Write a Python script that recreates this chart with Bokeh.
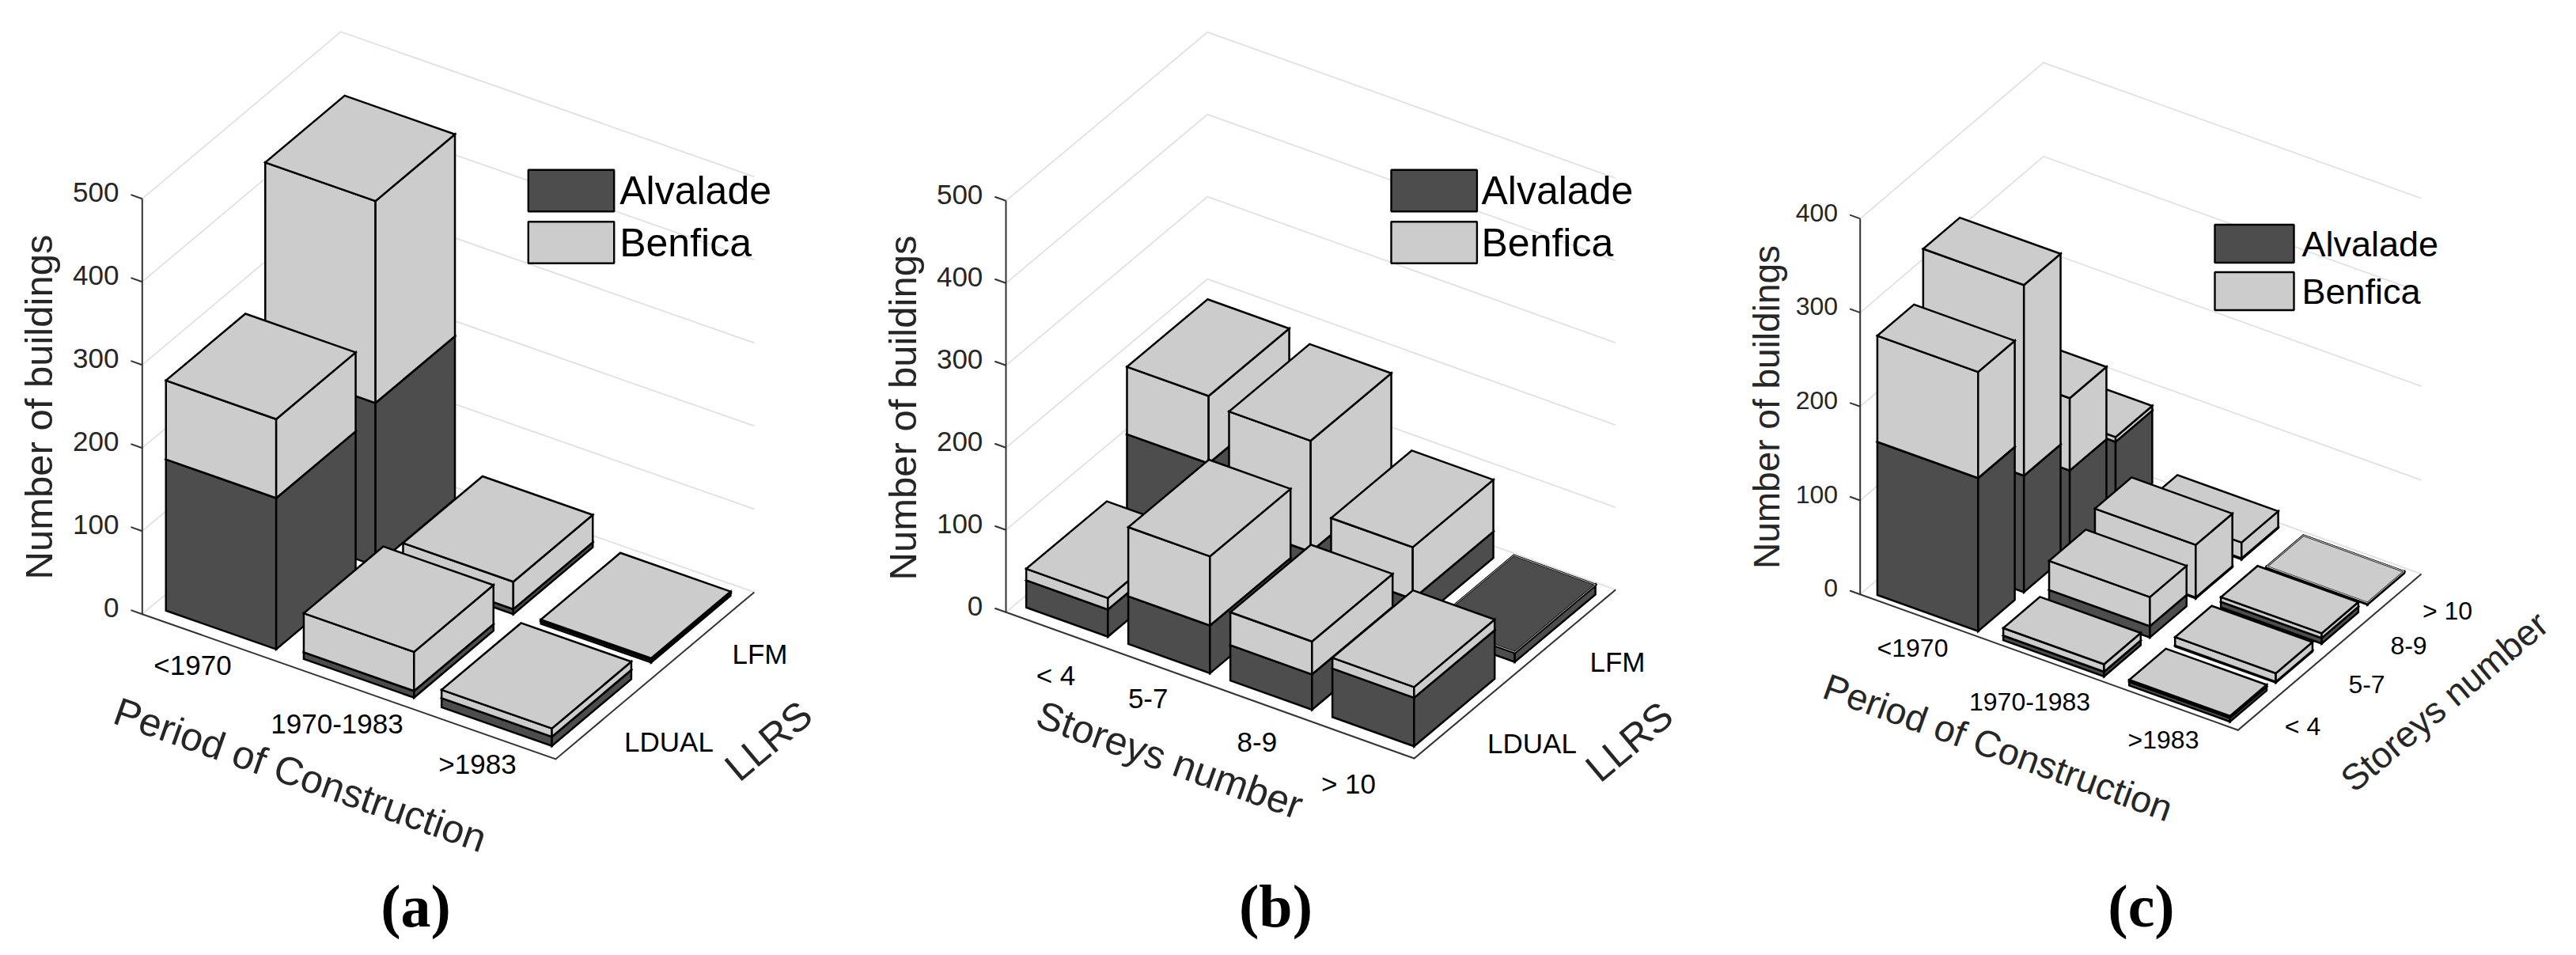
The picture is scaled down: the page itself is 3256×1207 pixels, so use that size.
from bokeh.plotting import figure
from bokeh.layouts import row
from bokeh.models import Range1d
from bokeh.core.properties import value as _v
from bokeh.embed import file_html
from bokeh.resources import INLINE
import math

FONT = "Liberation Sans"
DARK = "#4d4d4d"
LIGHT = "#cccccc"
INK = "#262626"
GRID = "#e0e0e0"
W, H = 3240, 1191
PANEL_X = [0, 1080, 2160]
PANEL_W = 1080

period = ["<1970", "1970-1983", ">1983"]
storeys = ["< 4", "5-7", "8-9", "> 10"]
llrs = ["LDUAL", "LFM"]
series_names = ["Alvalade", "Benfica"]
y_label = "Number of buildings"

# rows: second category (front to back), columns: first category
a_alvalade = [[182, 8, 11], [196, 6, 3]]
a_benfica = [[95, 47, 10], [243, 33, 2]]
b_alvalade = [[33, 58, 43, 59], [108, 45, 32, 11]]
b_benfica = [[14, 84, 40, 13], [82, 135, 63, 1]]
c_alvalade = [[163, 5, 4], [124, 12, 1], [88, 1, 6], [77, 1, 1]]
c_benfica = [[113, 8, 2], [203, 31, 9], [77, 56, 5], [5, 17, 1]]
a_ticks = [0, 100, 200, 300, 400, 500]
b_ticks = [0, 100, 200, 300, 400, 500]
c_ticks = [0, 100, 200, 300, 400]


def panel(idx, cfg):
    x0 = PANEL_X[idx]
    p = figure(width=PANEL_W, height=H, output_backend="svg", toolbar_location=None,
               x_range=Range1d(x0, x0 + PANEL_W), y_range=Range1d(H, 0),
               min_border=0, outline_line_color=None)
    p.xaxis.visible = False
    p.yaxis.visible = False
    p.grid.visible = False
    ox, oy = cfg["origin"]
    ex, ey = cfg["ex"], cfg["ey"]
    zs = cfg["zscale"]

    def P(t, s, z=0.0):
        return ox + t * ex[0] + s * ey[0], oy + t * ex[1] + s * ey[1] - z * zs

    def poly(pts):
        q = [P(*a) for a in pts]
        return [c[0] for c in q], [c[1] for c in q]

    # wall grid lines
    ticks = cfg["ticks"]
    for z in ticks:
        xs, ys = poly([(0, 0, z), (0, 1, z), (1, 1, z)])
        p.line(xs, ys, line_color=GRID, line_width=1.7)

    # floor edges and axis
    xs, ys = poly([(0, 0, ticks[-1]), (0, 0, 0), (1, 0, 0), (1, 1, 0)])
    p.line(xs, ys, line_color="#333333", line_width=2, line_join="miter")
    for z in ticks:
        xs, ys = poly([(0, 0, z), (-0.0275, 0, z)])
        p.line(xs, ys, line_color="#333333", line_width=2)
        tx, ty = P(-0.0275, 0, z)
        p.text([tx - 15], [ty - 3], text=[str(z)], text_font=_v(FONT), text_font_size=cfg["tick_fs"],
               text_align="right", text_baseline="middle", text_color=INK)

    # bars, back to front
    nx, ny = len(cfg["cats"]), len(cfg["rows"])
    A, B = cfg["alv"], cfg["ben"]
    for j in range(ny - 1, -1, -1):
        for i in range(nx):
            t0, t1 = (i + 0.1) / nx, (i + 0.9) / nx
            s0, s1 = (j + 0.1) / ny, (j + 0.9) / ny
            base = 0
            for name, col, v in ((series_names[0], DARK, A[j][i]), (series_names[1], LIGHT, B[j][i])):
                top = base + v
                fl = poly([(t0, s0, base), (t1, s0, base), (t1, s0, top), (t0, s0, top)])
                fr = poly([(t1, s0, base), (t1, s1, base), (t1, s1, top), (t1, s0, top)])
                ft = poly([(t0, s0, top), (t1, s0, top), (t1, s1, top), (t0, s1, top)])
                p.patches([fl[0], fr[0], ft[0]], [fl[1], fr[1], ft[1]], fill_color=col,
                          line_color="black", line_width=2.5, line_join="miter")
                base = top
            # very thin stacks: the top face shows the inner colour and a pale rim
            hl = cfg["rim"].get((j, i))
            if hl:
                ft = poly([(t0, s0, base), (t1, s0, base), (t1, s1, base), (t0, s1, base)])
                p.patch(ft[0], ft[1], fill_color=hl[0], line_color="black", line_width=2.4, line_join="miter")
                p.patch(ft[0], ft[1], fill_alpha=0, line_color=hl[1], line_width=0.9, line_join="miter")

    # legend
    lg = cfg["legend"]
    for name, col, cy in zip(series_names, (DARK, LIGHT), lg["cy"]):
        p.quad(left=[lg["x"]], right=[lg["x"] + lg["w"]], top=[cy - lg["h"] / 2], bottom=[cy + lg["h"] / 2],
               fill_color=col, line_color="black", line_width=2.4)
        p.text([lg["tx"]], [cy], text=[name], text_font=_v(FONT), text_font_size=lg["fs"],
               text_align="left", text_baseline="middle", text_color="black")

    # category and other labels
    for (txt, x, y) in cfg["labels"]:
        p.text([x], [y], text=[txt], text_font=_v(FONT), text_font_size=cfg["cat_fs"], text_align="center",
               text_baseline="middle", text_color="black")
    for (txt, x, y, ang, fs) in cfg["titles"]:
        p.text([x], [y], text=[txt], text_font=_v(FONT), text_font_size=fs, text_align="center",
               text_baseline="middle", angle=math.radians(ang), text_color=INK)
    tx, ty = cfg["caption_at"]
    p.text([tx], [ty], text=[cfg["caption"]], text_font=_v("Liberation Serif"), text_font_style="bold",
           text_font_size="76px", text_align="center", text_baseline="middle", text_color="black")
    return p


cfgs = [
    dict(origin=(179.3, 775.7), ex=(522.6, 183.2), ey=(251, -211), zscale=1.05, ticks=a_ticks,
         cats=period, rows=llrs, alv=a_alvalade, ben=a_benfica, tick_fs="35px", cat_fs="35px", rim={},
         legend=dict(x=667.3, w=108.4, h=52.5, cy=(240.5, 306), tx=782.7, fs="50px"),
         labels=[(period[0], 243, 840), (period[1], 425.5, 914), (period[2], 603, 965),
                 (llrs[1], 960, 826), (llrs[0], 845, 937)],
         titles=[(y_label, 48, 514, 90, "49px"), ("Period of Construction", 379, 979, -19.4, "50px"),
                 ("LLRS", 971, 936, 40, "50px")],
         caption="(a)", caption_at=(525, 1144)),
    dict(origin=(1271, 773.3), ex=(516, 184.7), ey=(254.7, -213.2), zscale=1.04, ticks=b_ticks,
         cats=storeys, rows=llrs, alv=b_alvalade, ben=b_benfica, tick_fs="35px", cat_fs="35px",
         rim={(1, 3): (DARK, "#d8d8d8")},
         legend=dict(x=1758, w=108.4, h=52.5, cy=(240.5, 306), tx=1872, fs="50px"),
         labels=[(storeys[0], 1334, 852.5), (storeys[1], 1450.7, 882), (storeys[2], 1588.3, 937.5),
                 (storeys[3], 1704, 990), (llrs[1], 2044, 836), (llrs[0], 1936, 939)],
         titles=[(y_label, 1140, 515, 90, "49px"), ("Storeys number", 1478, 960, -19.6, "50px"),
                 ("LLRS", 2059, 937, 40, "50px")],
         caption="(b)", caption_at=(1612, 1144)),
    dict(origin=(2350.7, 750.7), ex=(477.6, 171.6), ey=(231.7, -197.3), zscale=1.187, ticks=c_ticks,
         cats=period, rows=storeys, alv=c_alvalade, ben=c_benfica, tick_fs="32px", cat_fs="32px",
         rim={(3, 2): (LIGHT, "white")},
         legend=dict(x=2799, w=100, h=48, cy=(307.5, 367.5), tx=2909, fs="45px"),
         labels=[(period[0], 2417, 818.7), (period[1], 2565, 886.7), (period[2], 2734, 934),
                 (storeys[0], 2910, 917), (storeys[1], 2991, 864), (storeys[2], 3044, 815), (storeys[3], 3093, 771)],
         titles=[(y_label, 2232, 514, 90, "46px"), ("Period of Construction", 2525, 944, -19.8, "47px"),
                 ("Storeys number", 3089, 886, 40, "46px")],
         caption="(c)", caption_at=(2706, 1144)),
]

page = row(*[panel(i, c) for i, c in enumerate(cfgs)])
open("out.html", "w").write(file_html(page, INLINE))
